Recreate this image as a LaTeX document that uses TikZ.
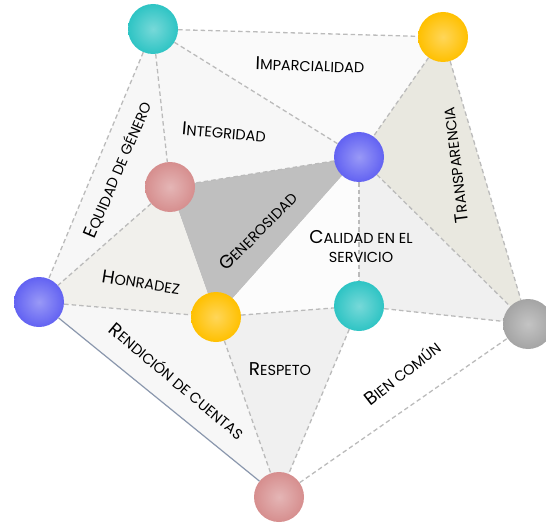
\documentclass[tikz,border=0pt]{standalone}
\usepackage{fontspec}
\setmainfont{Poppins}
\usetikzlibrary{backgrounds}

\definecolor{tealball}{HTML}{2EC4C4}
\definecolor{amberball}{HTML}{FFC000}
\definecolor{blueball}{HTML}{6262F2}
\definecolor{pinkball}{HTML}{D68E8E}
\definecolor{grayball}{HTML}{A4A4A4}
\definecolor{linegray}{HTML}{BBBBBB}
\definecolor{edgeblue}{HTML}{8A97AD}
\definecolor{transpfill}{HTML}{E9E8E0}
\definecolor{honrfill}{HTML}{F1F0EC}

\newcommand{\smc}[2]{{\fontsize{18.5}{18.5}\selectfont #1}{\fontsize{14.5}{19}\selectfont #2}}

\begin{document}
\begin{tikzpicture}[x=1pt,y=-1pt,
  sphere/.style={circle,minimum size=50pt,inner sep=0pt,shading=radial,
    inner color=#1!65!white,outer color=#1},
  dline/.style={draw=linegray,dash pattern=on 4.5pt off 3pt,line width=1.3pt},
  lab/.style={inner sep=0pt,font=\fontsize{14.5}{19}\selectfont}]
\useasboundingbox (0,0) rectangle (546,524);

\node[sphere=tealball] (tealtop) at (153,29) {};
\node[sphere=amberball] (ambtop) at (443,37) {};
\node[sphere=blueball] (bluemid) at (359,157) {};
\node[sphere=pinkball] (pinkmid) at (170,187) {};
\node[sphere=blueball] (blueleft) at (39,302) {};
\node[sphere=amberball] (ambmid) at (216,317) {};
\node[sphere=tealball] (tealmid) at (359,306) {};
\node[sphere=grayball] (grayright) at (528,324) {};
\node[sphere=pinkball] (pinkbot) at (279,497) {};

\begin{pgfonlayer}{background}
\fill[black!2] (tealtop.center) -- (ambtop.center) -- (bluemid.center) -- cycle;
\fill[black!3] (tealtop.center) -- (bluemid.center) -- (pinkmid.center) -- cycle;
\fill[black!3] (tealtop.center) -- (pinkmid.center) -- (blueleft.center) -- cycle;
\fill[transpfill] (ambtop.center) -- (bluemid.center) -- (grayright.center) -- cycle;
\fill[black!25] (pinkmid.center) -- (bluemid.center) -- (ambmid.center) -- cycle;
\fill[honrfill] (pinkmid.center) -- (ambmid.center) -- (blueleft.center) -- cycle;
\fill[black!1] (bluemid.center) -- (ambmid.center) -- (tealmid.center) -- cycle;
\fill[black!6] (bluemid.center) -- (tealmid.center) -- (grayright.center) -- cycle;
\fill[black!6] (ambmid.center) -- (tealmid.center) -- (pinkbot.center) -- cycle;
\fill[black!3] (blueleft.center) -- (ambmid.center) -- (pinkbot.center) -- cycle;
\end{pgfonlayer}

\draw[dline] (tealtop) -- (ambtop);
\draw[dline] (tealtop) -- (bluemid);
\draw[dline] (tealtop) -- (pinkmid);
\draw[dline] (tealtop) -- (blueleft);
\draw[dline] (ambtop) -- (bluemid);
\draw[dline] (ambtop) -- (grayright);
\draw[dline] (bluemid) -- (pinkmid);
\draw[dline] (bluemid) -- (tealmid);
\draw[dline] (bluemid) -- (grayright);
\draw[dline] (pinkmid) -- (blueleft);
\draw[dline] (blueleft) -- (ambmid);
\draw[dline] (ambmid) -- (tealmid);
\draw[dline] (ambmid) -- (pinkbot);
\draw[dline] (tealmid) -- (grayright);
\draw[dline] (tealmid) -- (pinkbot);
\draw[dline] (pinkbot) -- (grayright);
\draw[edgeblue,line width=1.2pt] (blueleft) -- (pinkbot);

\node[lab,rotate=-2] (imparc) at (310,65) {\smc{I}{MPARCIALIDAD}};
\node[lab,rotate=-5] (integr) at (224,132) {\smc{I}{NTEGRIDAD}};
\node[lab,rotate=67] (equid) at (118,170) {\smc{E}{QUIDAD DE GÉNERO}};
\node[lab,rotate=97] (transp) at (455,165) {\smc{T}{RANSPARENCIA}};
\node[lab,rotate=45] (gener) at (258,231) {\smc{G}{ENEROSIDAD}};
\node[lab,align=center] (calid) at (361,247) {\smc{C}{ALIDAD EN EL}\\SERVICIO};
\node[lab,rotate=-9] (honr) at (141,282) {\smc{H}{ONRADEZ}};
\node[lab,rotate=-40] (rendic) at (177,381) {\smc{R}{ENDICIÓN DE CUENTAS}};
\node[lab] (resp) at (280,369) {\smc{R}{ESPETO}};
\node[lab,rotate=38] (bien) at (402,373) {\smc{B}{IEN COMÚN}};
\end{tikzpicture}
\end{document}
